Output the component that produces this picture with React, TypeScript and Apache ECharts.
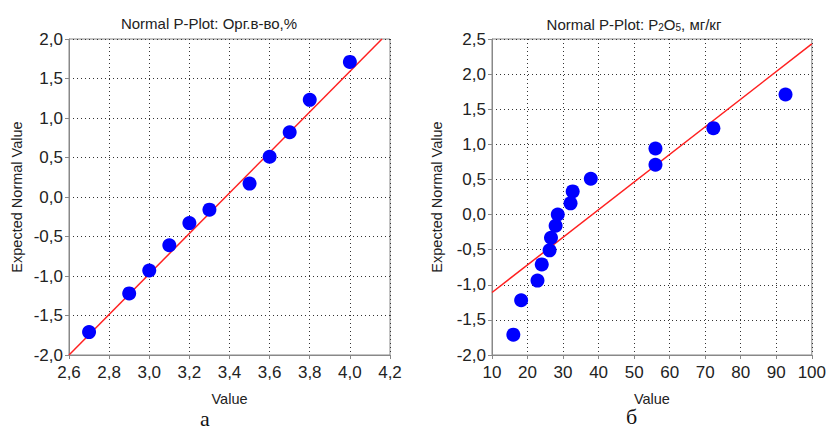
import React, { useEffect, useRef } from "react";
import * as echarts from "echarts";

// Panel a: Орг.в-во,%
const orgValues = [2.7, 2.9, 3.0, 3.1, 3.2, 3.3, 3.5, 3.6, 3.7, 3.8, 4.0];
const orgExpected = [-1.71, -1.22, -0.93, -0.61, -0.33, -0.16, 0.17, 0.51, 0.82, 1.23, 1.71];
const orgLineX = [2.6, 4.16];
const orgLineY = [-2.0, 2.0];

// Panel б: P2O5, мг/кг
const pValues = [16.0, 18.2, 22.8, 24.0, 26.2, 26.6, 27.9, 28.5, 32.1, 32.7, 37.8, 56.0, 56.0, 72.3, 92.6];
const pExpected = [-1.71, -1.22, -0.94, -0.71, -0.51, -0.33, -0.16, 0.0, 0.16, 0.33, 0.51, 0.71, 0.94, 1.23, 1.71];
const pLineX = [10, 100];
const pLineY = [-1.11, 2.43];

const titles = ["Normal P-Plot: Орг.в-во,%", "Normal P-Plot: P{sub|2}O{sub|5}, мг/кг"];
const panelLabels = ["а", "б"];

const FONT = "Liberation Sans, Arial, sans-serif";

export default function App() {
  const ref = useRef<HTMLDivElement>(null);
  useEffect(() => {
    document.body.style.margin = "0";
    if (!ref.current) return;
    const chart = echarts.init(ref.current, undefined, { renderer: "svg" });
    const comma1 = (v: number) => v.toFixed(1).replace(".", ",");
    const grids = [
      { left: 69, top: 39, width: 321, height: 316 },
      { left: 492, top: 39, width: 322, height: 316 },
    ];
    const axisCommon = {
      nameLocation: "middle" as const,
      nameTextStyle: { fontFamily: FONT, fontSize: 14.5, color: "#222" },
      axisLine: { show: true, onZero: false, lineStyle: { color: "#888", width: 1 } },
      axisTick: { show: true, inside: false, length: 4, lineStyle: { color: "#888" } },
      splitLine: { show: true, lineStyle: { color: "#333", type: [1, 3] as any, width: 1 } },
      axisLabel: { fontFamily: FONT, fontSize: 17, color: "#222" },
    };
    chart.setOption({
      animation: false,
      backgroundColor: "#fff",
      title: [
        {
          text: titles[0],
          left: 204,
          top: 11,
          textAlign: "center",
          textStyle: { fontFamily: FONT, fontSize: 15, fontWeight: "normal", color: "#222" },
        },
        {
          text: titles[1],
          left: 629,
          top: 11,
          textAlign: "center",
          textStyle: {
            fontFamily: FONT,
            fontSize: 15,
            fontWeight: "normal",
            color: "#222",
            rich: {
              sub: { fontFamily: FONT, fontSize: 10, color: "#222", verticalAlign: "bottom", padding: [6, 0, 0, 0] },
            },
          },
        },
      ],
      grid: grids.map((g) => ({ ...g, show: true, borderColor: "#888", borderWidth: 1 })),
      xAxis: [
        {
          ...axisCommon,
          type: "value",
          gridIndex: 0,
          min: 2.6,
          max: 4.2,
          interval: 0.2,
          name: "Value",
          nameGap: 36,
          axisLabel: { ...axisCommon.axisLabel, margin: 9, formatter: comma1 },
        },
        {
          ...axisCommon,
          type: "value",
          gridIndex: 1,
          min: 10,
          max: 100,
          interval: 10,
          name: "Value",
          nameGap: 36,
          axisLabel: { ...axisCommon.axisLabel, margin: 9 },
        },
      ],
      yAxis: [
        {
          ...axisCommon,
          type: "value",
          gridIndex: 0,
          min: -2,
          max: 2,
          interval: 0.5,
          name: "Expected Normal Value",
          nameGap: 45,
          axisLabel: { ...axisCommon.axisLabel, margin: 6, formatter: comma1 },
        },
        {
          ...axisCommon,
          type: "value",
          gridIndex: 1,
          min: -2,
          max: 2.5,
          interval: 0.5,
          name: "Expected Normal Value",
          nameGap: 48,
          axisLabel: { ...axisCommon.axisLabel, margin: 6, formatter: comma1 },
        },
      ],
      graphic: [
        {
          type: "text",
          left: 200,
          top: 407,
          style: { text: panelLabels[0], font: "22px 'Liberation Serif', serif", fill: "#111" },
        },
        {
          type: "text",
          left: 626,
          top: 405,
          style: { text: panelLabels[1], font: "22px 'Liberation Serif', serif", fill: "#111" },
        },
      ],
      series: [
        {
          type: "line",
          xAxisIndex: 0,
          yAxisIndex: 0,
          data: orgLineX.map((x, i) => [x, orgLineY[i]]),
          showSymbol: false,
          symbol: "none",
          lineStyle: { color: "#ff2020", width: 1.5 },
          z: 3,
        },
        {
          type: "scatter",
          xAxisIndex: 0,
          yAxisIndex: 0,
          data: orgValues.map((x, i) => [x, orgExpected[i]]),
          symbolSize: 14,
          itemStyle: { color: "#0000ff", opacity: 1 },
          z: 4,
        },
        {
          type: "line",
          xAxisIndex: 1,
          yAxisIndex: 1,
          data: pLineX.map((x, i) => [x, pLineY[i]]),
          showSymbol: false,
          symbol: "none",
          lineStyle: { color: "#ff2020", width: 1.5 },
          z: 3,
        },
        {
          type: "scatter",
          xAxisIndex: 1,
          yAxisIndex: 1,
          data: pValues.map((x, i) => [x, pExpected[i]]),
          symbolSize: 14,
          itemStyle: { color: "#0000ff", opacity: 1 },
          z: 4,
        },
      ],
    });
    return () => chart.dispose();
  }, []);
  return <div ref={ref} style={{ width: 829, height: 430 }} />;
}
